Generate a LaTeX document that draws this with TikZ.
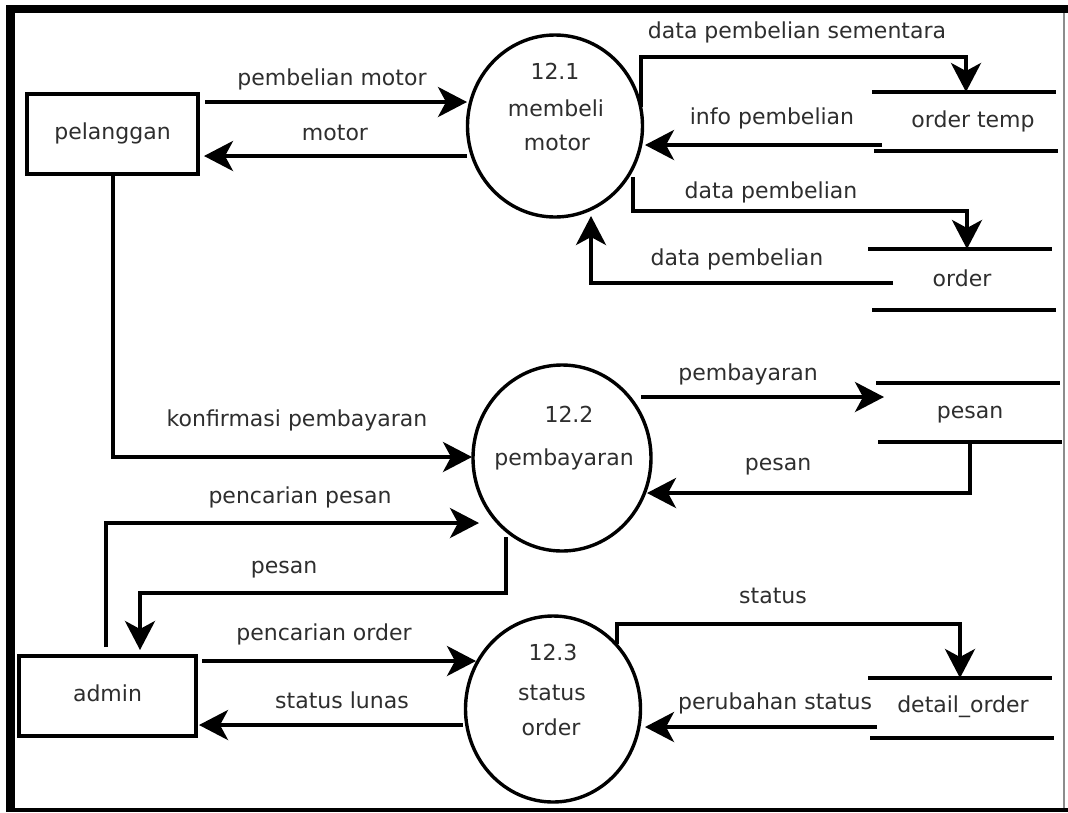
\documentclass[tikz,border=0pt]{standalone}
\usepackage{fontspec}
\setmainfont{DejaVu Sans}
\usetikzlibrary{arrows.meta,shapes.geometric}
\begin{document}
\begin{tikzpicture}[x=1pt,y=-1pt,
  txt/.style={font=\fontsize{22}{26}\selectfont, text=black!82, inner sep=0pt, text height=16pt, text depth=5pt},
  ent/.style={draw, line width=4pt, inner sep=0pt, font=\fontsize{22}{26}\selectfont, text=black!82, text height=16pt, text depth=5pt},
  proc/.style={draw, ellipse, line width=3.4pt, inner sep=0pt},
  flow/.style={line width=3.8pt, -{Stealth[length=29pt,width=30pt,inset=8pt]}},
  store/.style={line width=3.8pt}]
\useasboundingbox (0,0) rectangle (1068,812);
\fill[white] (0,0) rectangle (1068,812);
% frame
\fill (6,5) rectangle (15,812);
\fill (6,5) rectangle (1068,13);
\fill (6,808) rectangle (1068,812);
\draw[black!45, line width=1.2pt] (1064,13) -- (1064,808);

% external entities
\node[ent, minimum width=171pt, minimum height=80pt] (pel) at (112.5,134) {pelanggan};
\node[ent, minimum width=177pt, minimum height=80pt] (adm) at (107.5,696) {admin};

% processes
\node[proc, minimum width=175pt, minimum height=182pt] (p1) at (555,126) {};
\node[proc, minimum width=178pt, minimum height=186pt] (p2) at (562,458) {};
\node[proc, minimum width=175pt, minimum height=186pt] (p3) at (553,709) {};
\node[txt] (p1a) at (555,74) {12.1};
\node[txt] (p1b) at (556,111) {membeli};
\node[txt] (p1c) at (557,145) {motor};
\node[txt] (p2a) at (569,417) {12.2};
\node[txt] (p2b) at (564,460) {pembayaran};
\node[txt] (p3a) at (553,655) {12.3};
\node[txt] (p3b) at (552,695) {status};
\node[txt] (p3c) at (551,730) {order};

% data stores
\draw[store] (872,92) -- (1056,92);
\draw[store] (874,151) -- (1058,151);
\node[txt] (s1) at (973,122) {order temp};
\draw[store] (868,249) -- (1052,249);
\draw[store] (872,310) -- (1056,310);
\node[txt] (s2) at (962,281) {order};
\draw[store] (876,383) -- (1060,383);
\draw[store] (878,442) -- (1062,442);
\node[txt] (s3) at (970,413) {pesan};
\draw[store] (868,678) -- (1052,678);
\draw[store] (870,738) -- (1054,738);
\node[txt] (s4) at (963,707) {detail\_order};

% connector end points
\coordinate (a1) at (205,102);  \coordinate (b1) at (467,102);
\coordinate (a2) at (467,156);  \coordinate (b2) at (204,156);
\coordinate (a3) at (641,107);  \coordinate (c3) at (641,57);  \coordinate (d3) at (966,57);  \coordinate (b3) at (966,92);
\coordinate (a4) at (882,145);  \coordinate (b4) at (645,145);
\coordinate (a5) at (633,177);  \coordinate (c5) at (633,211); \coordinate (d5) at (967,211); \coordinate (b5) at (967,249);
\coordinate (a6) at (893,283);  \coordinate (c6) at (591,283); \coordinate (b6) at (591,216);
\coordinate (a7) at (113,176);  \coordinate (c7) at (113,457); \coordinate (b7) at (472,457);
\coordinate (a8) at (641,397);  \coordinate (b8) at (884,397);
\coordinate (a9) at (970,442);  \coordinate (c9) at (970,493); \coordinate (b9) at (647,493);
\coordinate (a10) at (106,647); \coordinate (c10) at (106,523); \coordinate (b10) at (479,523);
\coordinate (a11) at (506,537); \coordinate (c11) at (506,593); \coordinate (d11) at (140,593); \coordinate (b11) at (140,650);
\coordinate (a12) at (202,661); \coordinate (b12) at (476,661);
\coordinate (a13) at (463,725); \coordinate (b13) at (199,725);
\coordinate (a14) at (617,644); \coordinate (c14) at (617,624); \coordinate (d14) at (960,624); \coordinate (b14) at (960,678);
\coordinate (a15) at (877,727); \coordinate (b15) at (645,727);

% flows
\draw[flow] (a1) -- (b1);
\draw[flow] (a2) -- (b2);
\draw[flow] (a3) -- (c3) -- (d3) -- (b3);
\draw[flow] (a4) -- (b4);
\draw[flow] (a5) -- (c5) -- (d5) -- (b5);
\draw[flow] (a6) -- (c6) -- (b6);
\draw[flow] (a7) -- (c7) -- (b7);
\draw[flow] (a8) -- (b8);
\draw[flow] (a9) -- (c9) -- (b9);
\draw[flow] (a10) -- (c10) -- (b10);
\draw[flow] (a11) -- (c11) -- (d11) -- (b11);
\draw[flow] (a12) -- (b12);
\draw[flow] (a13) -- (b13);
\draw[flow] (a14) -- (c14) -- (d14) -- (b14);
\draw[flow] (a15) -- (b15);

% flow labels
\node[txt] (l1) at (332,80) {pembelian motor};
\node[txt] (l2) at (335,135) {motor};
\node[txt] (l3) at (797,33) {data pembelian sementara};
\node[txt] (l4) at (772,119) {info pembelian};
\node[txt] (l5) at (771,193) {data pembelian};
\node[txt] (l6) at (737,260) {data pembelian};
\node[txt] (l7) at (297,421) {konfirmasi pembayaran};
\node[txt] (l8) at (748,375) {pembayaran};
\node[txt] (l9) at (778,465) {pesan};
\node[txt] (l10) at (300,498) {pencarian pesan};
\node[txt] (l11) at (284,568) {pesan};
\node[txt] (l12) at (324,635) {pencarian order};
\node[txt] (l13) at (342,703) {status lunas};
\node[txt] (l14) at (773,598) {status};
\node[txt] (l15) at (775,704) {perubahan status};
\end{tikzpicture}
\end{document}
